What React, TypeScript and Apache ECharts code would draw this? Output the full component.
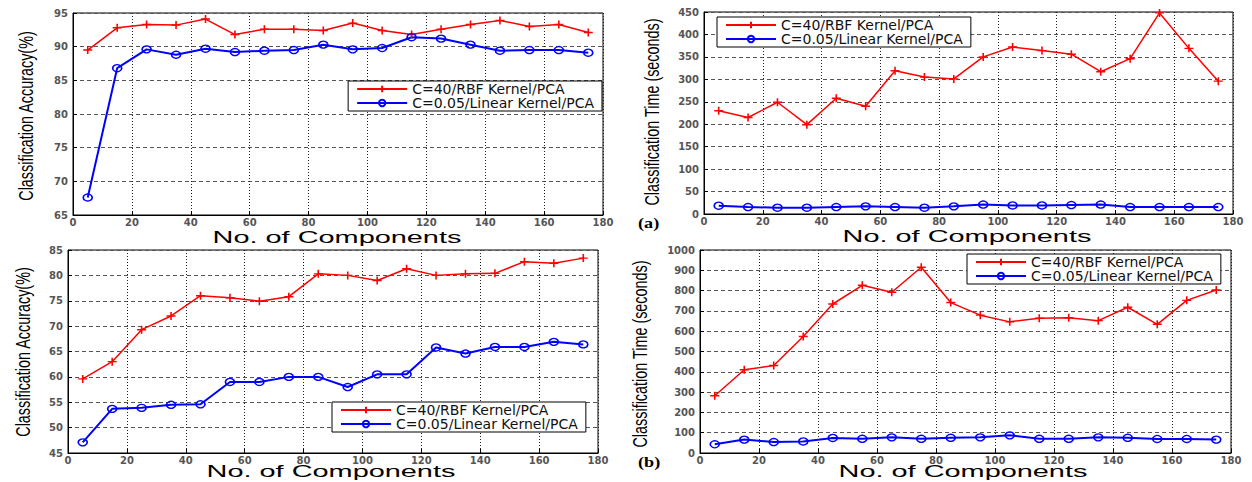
import React, { useEffect, useRef } from "react";
import * as echarts from "echarts";

const components = [5, 15, 25, 35, 45, 55, 65, 75, 85, 95, 105, 115, 125, 135, 145, 155, 165, 175];
const nameRbf = "C=40/RBF Kernel/PCA";
const nameLin = "C=0.05/Linear Kernel/PCA";

// (a) accuracy
const accA_rbf = [89.5, 92.8, 93.3, 93.2, 94.1, 91.8, 92.6, 92.6, 92.4, 93.5, 92.4, 91.8, 92.6, 93.3, 93.9, 93.0, 93.3, 92.1];
const accA_lin = [67.6, 86.8, 89.6, 88.8, 89.7, 89.2, 89.4, 89.5, 90.3, 89.6, 89.8, 91.4, 91.2, 90.3, 89.4, 89.5, 89.5, 89.1];
// (a) time
const timeA_rbf = [230, 215, 249, 199, 258, 240, 319, 305, 301, 350, 372, 364, 356, 317, 346, 448, 369, 296];
const timeA_lin = [18.5, 15.5, 14, 14, 15.5, 17, 15.5, 14, 17, 21, 19, 19, 20, 21, 15.5, 15.5, 15.5, 15.5];
// (b) accuracy
const accB_rbf = [59.6, 63.0, 69.3, 72.0, 76.0, 75.6, 74.9, 75.8, 80.3, 80.0, 79.0, 81.3, 80.0, 80.3, 80.4, 82.7, 82.4, 83.4];
const accB_lin = [47.1, 53.7, 53.9, 54.5, 54.6, 59.0, 59.0, 60.0, 60.0, 58.0, 60.5, 60.5, 65.8, 64.6, 65.9, 65.9, 66.9, 66.4];
// (b) time
const timeB_rbf = [282, 410, 431, 574, 734, 826, 792, 915, 741, 679, 646, 664, 666, 652, 718, 634, 752, 803];
const timeB_lin = [43, 66, 54, 57, 74, 70, 77, 70, 75, 77, 87, 70, 70, 77, 75, 69, 69, 66];

const xTitle = "No. of Components";
const yTitleAcc = "Classification Accuracy(%)";
const yTitleTime = "Classification Time (seconds)";

const yRanges = [
  { min: 65, max: 95, interval: 5 },
  { min: 0, max: 450, interval: 50 },
  { min: 45, max: 85, interval: 5 },
  { min: 0, max: 1000, interval: 100 },
];

const panelData = [
  [accA_rbf, accA_lin],
  [timeA_rbf, timeA_lin],
  [accB_rbf, accB_lin],
  [timeB_rbf, timeB_lin],
];

export default function App() {
  const ref = useRef<HTMLDivElement>(null);
  useEffect(() => {
    if (!ref.current) return;
    const chart = echarts.init(ref.current, null, { renderer: "svg" });

    const grids = [
      { left: 73, top: 13, width: 530, height: 202 },
      { left: 704, top: 12, width: 529, height: 202 },
      { left: 68, top: 250, width: 530, height: 203 },
      { left: 700, top: 250, width: 531, height: 203 },
    ].map((g) => ({ ...g, show: true, borderColor: "#000", borderWidth: 1, backgroundColor: "#fff" }));

    const tickLabel = {
      fontFamily: "DejaVu Sans",
      fontWeight: "bold",
      fontSize: 10,
      color: "#555",
      formatter: (v: number) => String(v),
    };

    const xAxes = grids.map((_, i) => ({
      type: "value",
      gridIndex: i,
      min: 0,
      max: 180,
      interval: 20,
      axisLine: { show: true, onZero: false, lineStyle: { color: "#000", width: 1 } },
      axisTick: { show: true, inside: true, length: 4, lineStyle: { color: "#000" } },
      axisLabel: { ...tickLabel, margin: 2 },
      splitLine: { show: true, lineStyle: { color: "#222", type: [1, 2], width: 1 } },
    }));

    const yAxes = grids.map((_, i) => ({
      type: "value",
      gridIndex: i,
      ...yRanges[i],
      axisLine: { show: true, onZero: false, lineStyle: { color: "#000", width: 1 } },
      axisTick: { show: true, inside: true, length: 4, lineStyle: { color: "#000" } },
      axisLabel: { ...tickLabel, margin: 5 },
      splitLine: { show: true, lineStyle: { color: "#555", type: [4, 3], width: 1 } },
    }));

    const plus = "path://M5,0 L5,10 M0,5 L10,5";
    const series: any[] = [];
    panelData.forEach((pair, i) => {
      series.push({
        type: "line",
        name: nameRbf,
        xAxisIndex: i,
        yAxisIndex: i,
        data: components.map((c, k) => [c, pair[0][k]]),
        symbol: plus,
        symbolSize: [9, 8],
        showAllSymbol: true,
        lineStyle: { color: "#ff0000", width: 1.5 },
        itemStyle: { color: "#ff0000", borderColor: "#ff0000", borderWidth: 1.5 },
      });
      series.push({
        type: "line",
        name: nameLin,
        xAxisIndex: i,
        yAxisIndex: i,
        data: components.map((c, k) => [c, pair[1][k]]),
        symbol: "circle",
        symbolSize: [9, 7],
        showAllSymbol: true,
        lineStyle: { color: "#0000ff", width: 2 },
        itemStyle: { color: "rgba(0,0,0,0)", borderColor: "#0000ff", borderWidth: 1.5 },
      });
    });

    const legendBase = {
      orient: "vertical",
      data: [nameRbf, nameLin],
      itemWidth: 50,
      itemHeight: 8,
      itemGap: 0,
      padding: [1, 8, 1, 8],
      borderColor: "#000",
      borderWidth: 1,
      backgroundColor: "#fff",
      selectedMode: false,
      textStyle: { fontFamily: "DejaVu Sans", fontSize: 14, color: "#111", lineHeight: 11 },
    };
    const legends = [
      { ...legendBase, right: 650, top: 81 },
      { ...legendBase, left: 717, top: 17 },
      { ...legendBase, left: 332, top: 402 },
      { ...legendBase, left: 967, top: 254 },
    ];

    const xt = (x: number, y: number) => ({
      type: "text",
      x,
      y,
      scaleX: 1.7,
      style: { text: xTitle, font: '17px "Liberation Sans"', fill: "#000", textAlign: "center", textVerticalAlign: "middle" },
    });
    const yt = (x: number, y: number, text: string) => ({
      type: "text",
      x,
      y,
      rotation: Math.PI / 2,
      scaleX: 0.72,
      style: { text, font: '20px "Liberation Sans"', fill: "#000", textAlign: "center", textVerticalAlign: "middle" },
    });
    const tag = (x: number, y: number, text: string) => ({
      type: "text",
      x,
      y,
      scaleX: 1.3,
      style: { text, font: 'bold 14px "Liberation Serif"', fill: "#000", textAlign: "left", textVerticalAlign: "middle" },
    });

    chart.setOption({
      animation: false,
      backgroundColor: "#fff",
      grid: grids,
      xAxis: xAxes,
      yAxis: yAxes,
      legend: legends,
      series,
      graphic: [
        xt(337, 237),
        xt(967, 236),
        xt(331, 471),
        xt(963, 471),
        yt(26, 116, yTitleAcc),
        yt(652, 112, yTitleTime),
        yt(23, 352, yTitleAcc),
        yt(640, 354, yTitleTime),
        tag(638, 224, "(a)"),
        tag(638, 463, "(b)"),
      ],
    });
    return () => chart.dispose();
  }, []);
  return <div ref={ref} style={{ position: "fixed", left: 0, top: 0, width: 1252, height: 482 }} />;
}
